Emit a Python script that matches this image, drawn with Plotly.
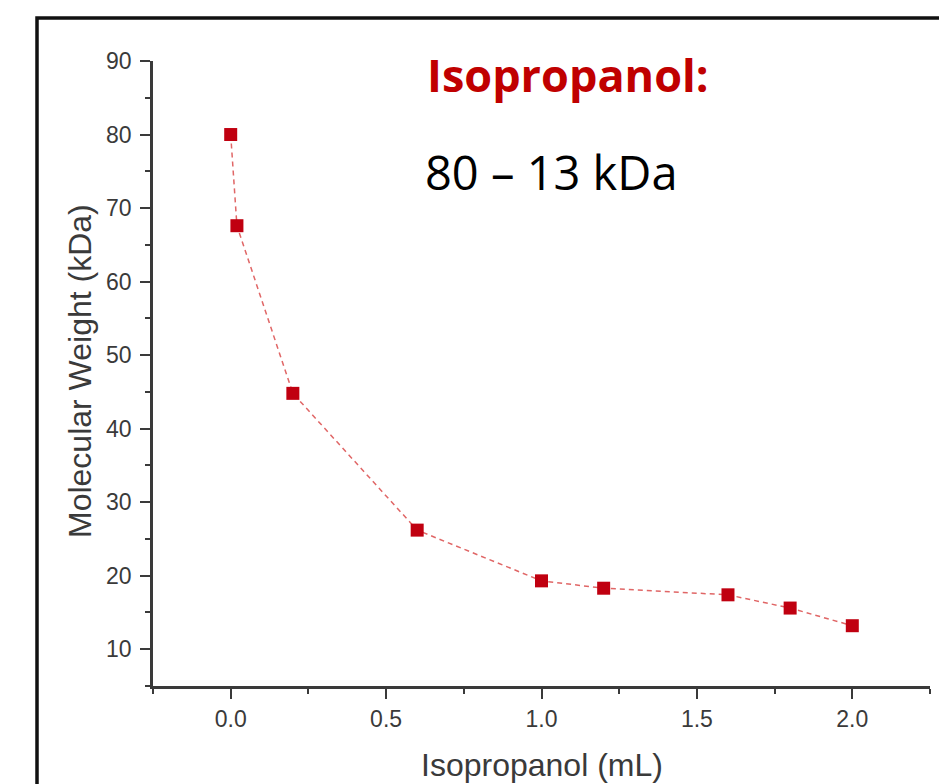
import plotly.graph_objects as go

# ---- data ----
isopropanol_ml = [0.0, 0.02, 0.2, 0.6, 1.0, 1.2, 1.6, 1.8, 2.0]
mol_weight_kda = [80.0, 67.6, 44.8, 26.2, 19.3, 18.3, 17.4, 15.6, 13.2]
x_tick_vals = [0.0, 0.5, 1.0, 1.5, 2.0]
x_tick_text = ["0.0", "0.5", "1.0", "1.5", "2.0"]
y_tick_vals = [10, 20, 30, 40, 50, 60, 70, 80, 90]
y_tick_text = ["10", "20", "30", "40", "50", "60", "70", "80", "90"]

OFF = 8  # page body margin
W, H = 947, 784
L, R, T, B = 153 - OFF, 17 + OFF, 61 - OFF, 98 + OFF
PW, PH = W - L - R, H - T - B

def px(xp):
    return (xp - OFF - L) / PW

def py(yp):
    return (H - B - (yp - OFF)) / PH

fig = go.Figure()
fig.add_trace(go.Scatter(
    x=isopropanol_ml, y=mol_weight_kda, mode="lines+markers",
    line=dict(color="#e06666", width=1.5, dash="5px,4px"),
    marker=dict(symbol="square", size=13, color="#c00010",
                line=dict(width=0)),
    showlegend=False, cliponaxis=False,
))

axis_common = dict(
    showline=True, linecolor="#3a3a3a", linewidth=2.5,
    ticks="outside", ticklen=10, tickwidth=2, tickcolor="#3a3a3a",
    showgrid=False, zeroline=False,
    tickfont=dict(family="Liberation Sans, Arial", size=23, color="#3a3a3a"),
    mirror=False,
)

fig.update_xaxes(
    range=[-0.25, 2.25], tickvals=x_tick_vals, ticktext=x_tick_text,
    minor=dict(dtick=0.25, tick0=0, ticks="outside", ticklen=5,
               tickwidth=2, tickcolor="#3a3a3a"),
    ticklabelstandoff=1,
    **axis_common,
)
fig.update_yaxes(
    range=[5, 90], tickvals=y_tick_vals, ticktext=y_tick_text,
    minor=dict(dtick=5, tick0=0, ticks="outside", ticklen=5,
               tickwidth=2, tickcolor="#3a3a3a"),
    ticklabelstandoff=4,
    **axis_common,
)

fig.add_shape(type="rect", xref="paper", yref="paper",
              x0=px(37), x1=px(990), y0=py(830), y1=py(18),
              line=dict(color="#111111", width=3.5), fillcolor="rgba(0,0,0,0)",
              layer="below")

fig.add_annotation(xref="paper", yref="paper", x=px(425), y=py(74),
                   xanchor="left", yanchor="middle", showarrow=False,
                   text="<b>Isopropanol:</b>",
                   font=dict(family="Open Sans", size=45, color="#c00000"))
fig.add_annotation(xref="paper", yref="paper", x=px(423), y=py(172),
                   xanchor="left", yanchor="middle", showarrow=False,
                   text="80 – 13 kDa",
                   font=dict(family="Open Sans", size=47, color="#000000"))

fig.add_annotation(xref="paper", yref="paper", x=px(542), y=py(765),
                   xanchor="center", yanchor="middle", showarrow=False,
                   text="Isopropanol (mL)",
                   font=dict(family="Liberation Sans, Arial", size=32, color="#3a3a3a"))
fig.add_annotation(xref="paper", yref="paper", x=px(80), y=py(371),
                   xanchor="center", yanchor="middle", showarrow=False,
                   textangle=-90,
                   text="Molecular Weight (kDa)",
                   font=dict(family="Liberation Sans, Arial", size=32, color="#3a3a3a"))

fig.update_layout(
    width=W, height=H,
    margin=dict(l=L, r=R, t=T, b=B),
    paper_bgcolor="white", plot_bgcolor="white",
)

fig.write_html("out.html")
